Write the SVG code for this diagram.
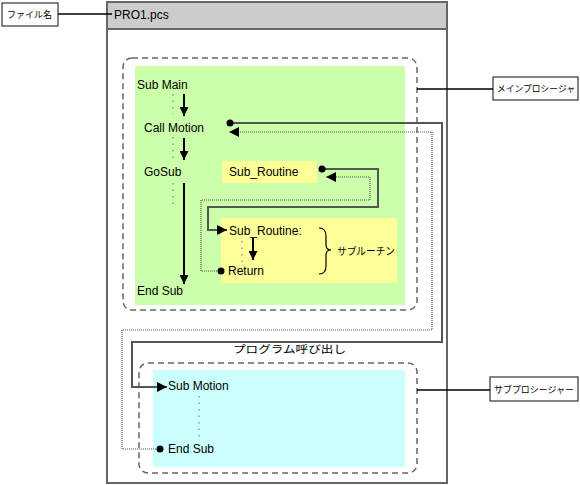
<svg xmlns="http://www.w3.org/2000/svg" width="580" height="485" viewBox="0 0 580 485">
<style>
.t{font-family:"Liberation Sans",Arial,sans-serif;font-size:12px;fill:#000}
.j{font-family:"Noto Sans CJK JP","Liberation Sans",sans-serif;font-size:10.5px;fill:#000}
.js{font-family:"Noto Sans CJK JP","Liberation Sans",sans-serif;font-size:9px;fill:#000}
.lbl{fill:#fff;stroke:#333;stroke-width:1.2}
.dash{fill:none;stroke:#666;stroke-width:1.5;stroke-dasharray:6,4}
.dots{fill:none;stroke:#999;stroke-width:1.5;stroke-dasharray:1.5,5}
.flow{fill:none;stroke:#000;stroke-width:2}
.sol{fill:none;stroke:#555;stroke-width:2}
.dtl{fill:none;stroke:#555;stroke-width:1.2;stroke-dasharray:1,1}
.lead{fill:none;stroke:#000;stroke-width:1.5}
.pt{fill:#000}
</style>
<defs>
<marker id="ah" viewBox="0 0 10 10" refX="10" refY="5" markerWidth="4.5" markerHeight="4.5" markerUnits="strokeWidth" orient="auto"><path d="M0,0 L10,5 L0,10 z" fill="#000"/></marker>
<marker id="ah2" viewBox="0 0 10 10" refX="10" refY="5" markerWidth="10" markerHeight="10" markerUnits="userSpaceOnUse" orient="auto"><path d="M0,0 L10,5 L0,10 z" fill="#000"/></marker>
</defs>

<g id="file">
<rect x="107" y="2" width="340" height="481" fill="#fff" stroke="#666" stroke-width="2"/>
<rect x="107" y="2" width="340" height="27" fill="#cccccc" stroke="#666" stroke-width="2"/>
<text class="t" x="114" y="19">PRO1.pcs</text>
</g>

<g id="file-label">
<rect class="lbl" x="2" y="3" width="56" height="23"/>
<text class="js" x="7" y="18" textLength="45" lengthAdjust="spacingAndGlyphs">ファイル名</text>
</g>

<g id="main-proc">
<rect class="dash" x="123" y="58" width="294" height="252" rx="9"/>
<rect x="135" y="66" width="270" height="239" fill="#ccffaa"/>
<text class="t" x="137" y="89">Sub Main</text>
<text class="t" x="144" y="132">Call Motion</text>
<text class="t" x="144" y="176">GoSub</text>
<text class="t" x="137" y="295">End Sub</text>
</g>

<g id="sub-routine-call">
<rect x="222" y="161" width="95" height="22" fill="#ffff99"/>
<text class="t" x="229" y="176">Sub_Routine</text>
</g>

<g id="sub-routine">
<rect x="221" y="218" width="176" height="65" fill="#ffff99"/>
<text class="t" x="229" y="235">Sub_Routine:</text>
<text class="t" x="228" y="275">Return</text>
<path d="M319,228 Q326,228 326,236 V245 Q326,250 331,250 Q326,250 326,255 V266 Q326,274 319,274" fill="none" stroke="#000" stroke-width="1.2"/>
<text class="j" x="337" y="255" textLength="58" lengthAdjust="spacingAndGlyphs">サブルーチン</text>
</g>

<g id="sub-proc">
<rect class="dash" x="139" y="363" width="278" height="110" rx="9"/>
<rect x="153" y="370" width="252" height="97" fill="#ccffff"/>
<text class="t" x="168" y="390">Sub Motion</text>
<text class="t" x="168" y="453">End Sub</text>
</g>

<g id="main-label">
<rect class="lbl" x="493" y="77" width="85" height="23"/>
<text class="js" x="497" y="92" textLength="78" lengthAdjust="spacingAndGlyphs">メインプロシージャ</text>
</g>

<g id="sub-label">
<rect class="lbl" x="490" y="377" width="88" height="24"/>
<text class="js" x="494" y="393" textLength="80" lengthAdjust="spacingAndGlyphs">サブプロシージャー</text>
</g>

<g id="call-label">
<text class="j" x="233" y="353" textLength="113" lengthAdjust="spacingAndGlyphs">プログラム呼び出し</text>
</g>

<g id="connectors">
<line class="lead" x1="58" y1="14" x2="112" y2="14"/>
<line class="lead" x1="417" y1="89" x2="493" y2="89"/>
<line class="lead" x1="417" y1="390" x2="490" y2="390"/>

<line class="dots" x1="173" y1="94" x2="173" y2="114"/>
<line class="dots" x1="173" y1="137" x2="173" y2="159"/>
<line class="dots" x1="173" y1="183" x2="173" y2="209"/>
<line class="dots" x1="242" y1="241" x2="242" y2="262"/>
<line class="dots" x1="199" y1="396" x2="199" y2="441"/>

<line class="flow" x1="184" y1="94" x2="184" y2="116" marker-end="url(#ah)"/>
<line class="flow" x1="184" y1="138" x2="184" y2="160" marker-end="url(#ah)"/>
<line class="flow" x1="184" y1="183" x2="184" y2="284" marker-end="url(#ah)"/>
<line class="flow" x1="253" y1="238" x2="253" y2="260" marker-end="url(#ah)"/>

<path class="sol" d="M322,169 H378 V207 H208 V230 H227" marker-end="url(#ah2)"/>
<circle class="pt" cx="322" cy="169" r="3.5"/>
<path class="dtl" d="M221,271 H201 V200 H370 V177 H326" marker-end="url(#ah2)"/>
<circle class="pt" cx="221" cy="271" r="3.5"/>

<path class="sol" d="M230,123 H442 V342 H132 V387 H167" marker-end="url(#ah2)"/>
<circle class="pt" cx="230" cy="123" r="3.5"/>
<path class="dtl" d="M160,449 H122 V330 H432 V132 H229" marker-end="url(#ah2)"/>
<circle class="pt" cx="160" cy="449" r="3.5"/>
</g>
</svg>
